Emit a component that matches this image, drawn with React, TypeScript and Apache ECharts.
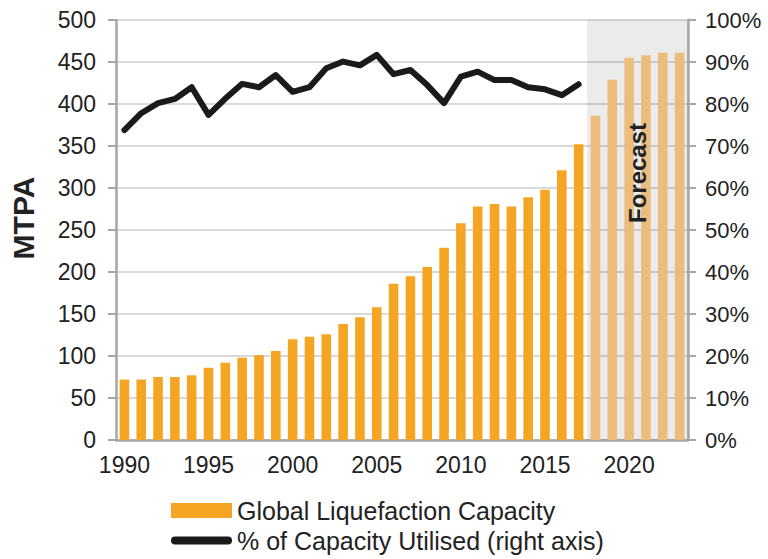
import React, { useEffect, useRef } from "react";
import * as echarts from "echarts";

const years = [
  "1990","1991","1992","1993","1994","1995","1996","1997","1998","1999",
  "2000","2001","2002","2003","2004","2005","2006","2007","2008","2009",
  "2010","2011","2012","2013","2014","2015","2016","2017","2018","2019",
  "2020","2021","2022","2023",
];
const capacity = [
  72, 72, 75, 75, 77, 86, 92, 98, 101, 106,
  120, 123, 126, 138, 146, 158, 186, 195, 206, 229,
  258, 278, 281, 278, 289, 298, 321, 352, 386, 429,
  455, 458, 461, 461,
];
const utilised = [
  73.8, 77.8, 80.2, 81.2, 84.0, 77.4, 81.3, 84.8, 84.0, 86.9,
  82.9, 84.0, 88.5, 90.1, 89.2, 91.7, 87.1, 88.1, 84.5, 80.2,
  86.5, 87.7, 85.7, 85.7, 84.0, 83.5, 82.1, 84.7,
];
const forecastYears = ["2018", "2019", "2020", "2021", "2022", "2023"];
const forecastShade = years.map((y) => (forecastYears.includes(y) ? 500 : null));

const leftTicks = { min: 0, max: 500, interval: 50 };
const rightTicks = { min: 0, max: 100, interval: 10 };

const FONT = "'Liberation Sans', Arial, Helvetica, sans-serif";
const ORANGE = "#F5A524";
const ORANGE_LIGHT = "#EBBC7C";
const AXIS_GRAY = "#A6A6A6";
const TEXT = "#222222";

export default function App() {
  const ref = useRef<HTMLDivElement>(null);
  useEffect(() => {
    if (!ref.current) return;
    const chart = echarts.init(ref.current, null, { renderer: "svg" });
    chart.setOption({
      animation: false,
      textStyle: { fontFamily: FONT },
      grid: { left: 116, right: 80, top: 20, bottom: 119 },
      legend: {
        orient: "vertical",
        left: 171,
        top: 498,
        height: 60,
        padding: 0,
        itemWidth: 61,
        itemHeight: 15,
        itemGap: 5,
        textStyle: { fontSize: 25, lineHeight: 25, color: TEXT, fontFamily: FONT },
        data: [
          { name: "Global Liquefaction Capacity", icon: "rect", itemStyle: { color: ORANGE } },
          {
            name: "% of Capacity Utilised (right axis)",
            icon: "path://M4,0 L57,0 A4,4 0 0 1 57,8 L4,8 A4,4 0 0 1 4,0 Z",
            itemStyle: { color: "#1a1a1a" },
          },
        ],
      },
      xAxis: [
        {
          type: "category",
          data: years,
          boundaryGap: true,
          axisLine: { lineStyle: { color: AXIS_GRAY, width: 2.5 } },
          axisTick: { interval: 0, length: 6, lineStyle: { color: AXIS_GRAY, width: 2 } },
          axisLabel: { interval: 4, fontSize: 23, color: TEXT, margin: 13, fontFamily: FONT },
          splitLine: { show: false },
        },
        {
          type: "category",
          data: years,
          show: false,
          boundaryGap: true,
        },
      ],
      yAxis: [
        {
          type: "value",
          ...leftTicks,
          axisLine: { show: true, lineStyle: { color: AXIS_GRAY, width: 2.5 } },
          axisTick: { show: true, length: 8, lineStyle: { color: AXIS_GRAY, width: 2 } },
          axisLabel: { fontSize: 23, color: TEXT, margin: 20, fontFamily: FONT },
          splitLine: { show: true, lineStyle: { color: "#D9D9D9", width: 2 } },
        },
        {
          type: "value",
          ...rightTicks,
          position: "right",
          axisLine: { show: true, lineStyle: { color: AXIS_GRAY, width: 2.5 } },
          axisTick: { show: true, length: 8, lineStyle: { color: AXIS_GRAY, width: 2 } },
          axisLabel: { fontSize: 22, color: TEXT, margin: 17, formatter: "{value}%", fontFamily: FONT },
          splitLine: { show: false },
        },
      ],
      series: [
        {
          name: "forecast-bg",
          type: "bar",
          xAxisIndex: 1,
          yAxisIndex: 0,
          barWidth: "100%",
          data: forecastShade,
          itemStyle: { color: "rgba(0,0,0,0.08)" },
          silent: true,
        },
        {
          name: "Global Liquefaction Capacity",
          type: "bar",
          xAxisIndex: 0,
          yAxisIndex: 0,
          barWidth: "57%",
          data: capacity.map((v, i) =>
            forecastYears.includes(years[i])
              ? { value: v, itemStyle: { color: ORANGE_LIGHT } }
              : v
          ),
          itemStyle: { color: ORANGE },
        },
        {
          name: "% of Capacity Utilised (right axis)",
          type: "line",
          xAxisIndex: 0,
          yAxisIndex: 1,
          data: utilised,
          showSymbol: false,
          lineStyle: { color: "#1a1a1a", width: 6, join: "round", cap: "round" },
          itemStyle: { color: "#1a1a1a" },
          z: 5,
        },
      ],
      graphic: [
        {
          type: "text",
          x: 23,
          y: 218,
          rotation: Math.PI / 2,
          style: {
            text: "MTPA",
            fontSize: 30,
            fontWeight: "bold",
            fontFamily: FONT,
            fill: TEXT,
            textAlign: "center",
            textVerticalAlign: "middle",
          },
        },
        {
          type: "text",
          x: 637,
          y: 173,
          rotation: Math.PI / 2,
          style: {
            text: "Forecast",
            fontSize: 24,
            fontWeight: "bold",
            fontFamily: FONT,
            fill: TEXT,
            textAlign: "center",
            textVerticalAlign: "middle",
          },
          z: 10,
        },
      ],
    });
    return () => chart.dispose();
  }, []);
  return (
    <div
      ref={ref}
      style={{ position: "absolute", left: 0, top: 0, width: 768, height: 559 }}
    />
  );
}
